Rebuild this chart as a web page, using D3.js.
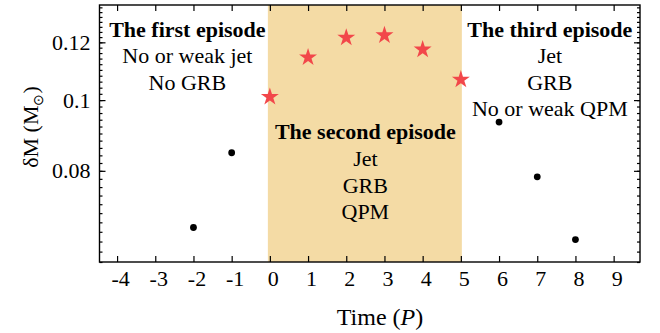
<!DOCTYPE html>
<html>
<head>
<meta charset="utf-8">
<script src="https://cdn.jsdelivr.net/npm/d3@7"></script>
<style>
  body { margin: 0; background: #fff; }
  svg { display: block; }
  text { font-family: "Liberation Serif", "Times New Roman", serif; fill: #000; }
</style>
</head>
<body>
<svg id="chart" width="660" height="333"></svg>
<script>
// --- data ---
const beforeTime = [-2, -1];
const beforeMass = [0.0669, 0.0847];
const activeTime = [0, 1, 2, 3, 4, 5];
const activeMass = [0.1010, 0.1144, 0.1218, 0.1227, 0.1173, 0.1067];
const afterTime = [6, 7, 8];
const afterMass = [0.0933, 0.0785, 0.0644];
const episodeSpan = [0, 5];
const xTicks = d3.range(-4, 10);
const yTicks = [0.08, 0.1, 0.12];
const yMinor = d3.range(30, 68).map((i) => +(i * 0.002).toFixed(3));
const episodeNotes = [
  { t: -2.16, upper: true, title: "The first episode", lines: ["No or weak jet", "No GRB"] },
  { t: 2.5, upper: false, title: "The second episode", lines: ["Jet", "GRB", "QPM"] },
  { t: 7.33, upper: true, title: "The third episode", lines: ["Jet", "GRB", "No or weak QPM"] },
];

const W = 660, H = 333;
const m = { left: 99.5, right: 20, top: 5, bottom: 71 };
const svg = d3.select("#chart");

const x = d3.scaleLinear().domain([-4.46, 9.69]).range([m.left, W - m.right]);
const y = d3.scaleLog().domain([0.06, 0.135]).range([H - m.bottom, m.top]);

// shaded second episode
svg.append("rect")
  .attr("x", x(episodeSpan[0]) - 2).attr("y", m.top)
  .attr("width", x(episodeSpan[1]) - x(episodeSpan[0]) + 3)
  .attr("height", H - m.bottom - m.top)
  .attr("fill", "#f4dba5");

// axes: ticks point inward on all four sides
const fmt = (d) => String(d);
const axBottom = svg.append("g").attr("transform", `translate(0,${H - m.bottom})`)
  .call(d3.axisBottom(x).tickValues(xTicks).tickFormat(fmt).tickSize(-6).tickPadding(8));
const axTop = svg.append("g").attr("transform", `translate(0,${m.top})`)
  .call(d3.axisTop(x).tickValues(xTicks).tickFormat("").tickSize(-6));
const axLeft = svg.append("g").attr("transform", `translate(${m.left},0)`)
  .call(d3.axisLeft(y).tickValues(yTicks).tickFormat(fmt).tickSize(-6).tickPadding(9));
const axLeftMinor = svg.append("g").attr("transform", `translate(${m.left},0)`)
  .call(d3.axisLeft(y).tickValues(yMinor).tickFormat("").tickSize(-3));
const axRight = svg.append("g").attr("transform", `translate(${W - m.right},0)`)
  .call(d3.axisRight(y).tickValues(yTicks).tickFormat("").tickSize(-6));
const axRightMinor = svg.append("g").attr("transform", `translate(${W - m.right},0)`)
  .call(d3.axisRight(y).tickValues(yMinor).tickFormat("").tickSize(-3));

for (const g of [axBottom, axTop, axLeft, axLeftMinor, axRight, axRightMinor]) {
  g.select(".domain").remove();
  g.selectAll("line").attr("stroke", "#000").attr("stroke-width", 1.2);
  g.selectAll("text").attr("font-size", 22).attr("font-family", "Liberation Serif");
}
axBottom.selectAll("text").attr("dx", 3);

svg.append("rect")
  .attr("x", m.left).attr("y", m.top)
  .attr("width", W - m.right - m.left).attr("height", H - m.bottom - m.top)
  .attr("fill", "none").attr("stroke", "#000").attr("stroke-width", 1.4);

// points
const dots = beforeTime.map((t, i) => [t, beforeMass[i]])
  .concat(afterTime.map((t, i) => [t, afterMass[i]]));
svg.append("g").selectAll("circle").data(dots).join("circle")
  .attr("cx", (d) => x(d[0])).attr("cy", (d) => y(d[1])).attr("r", 3.4)
  .attr("fill", "#000");

const star = d3.symbol().type(d3.symbolStar).size(100);
svg.append("g").selectAll("path").data(activeTime.map((t, i) => [t, activeMass[i]])).join("path")
  .attr("d", star)
  .attr("transform", (d) => `translate(${x(d[0])},${y(d[1])})`)
  .attr("fill", "#f2474a");

// episode annotations
const lineGap = 26.6;
for (const n of episodeNotes) {
  const y0 = n.upper ? 36.5 : 139.3;
  const g = svg.append("g").attr("text-anchor", "middle").attr("font-size", 22);
  g.append("text").attr("x", x(n.t)).attr("y", y0).attr("font-weight", "bold").text(n.title);
  n.lines.forEach((s, i) => {
    g.append("text").attr("x", x(n.t)).attr("y", y0 + lineGap * (i + 1)).text(s);
  });
}

// axis titles
const xt = svg.append("text").attr("x", 380).attr("y", 325)
  .attr("text-anchor", "middle").attr("font-size", 24);
xt.append("tspan").text("Time (");
xt.append("tspan").attr("font-style", "italic").text("P");
xt.append("tspan").text(")");

const yt = svg.append("text").attr("transform", "translate(38,127) rotate(-90)")
  .attr("text-anchor", "middle").attr("font-size", 22);
yt.append("tspan").text("δM (M");
yt.append("tspan").attr("font-size", 14).attr("dy", 5).text("⊙");
yt.append("tspan").attr("dy", -5).text(")");
</script>
</body>
</html>
